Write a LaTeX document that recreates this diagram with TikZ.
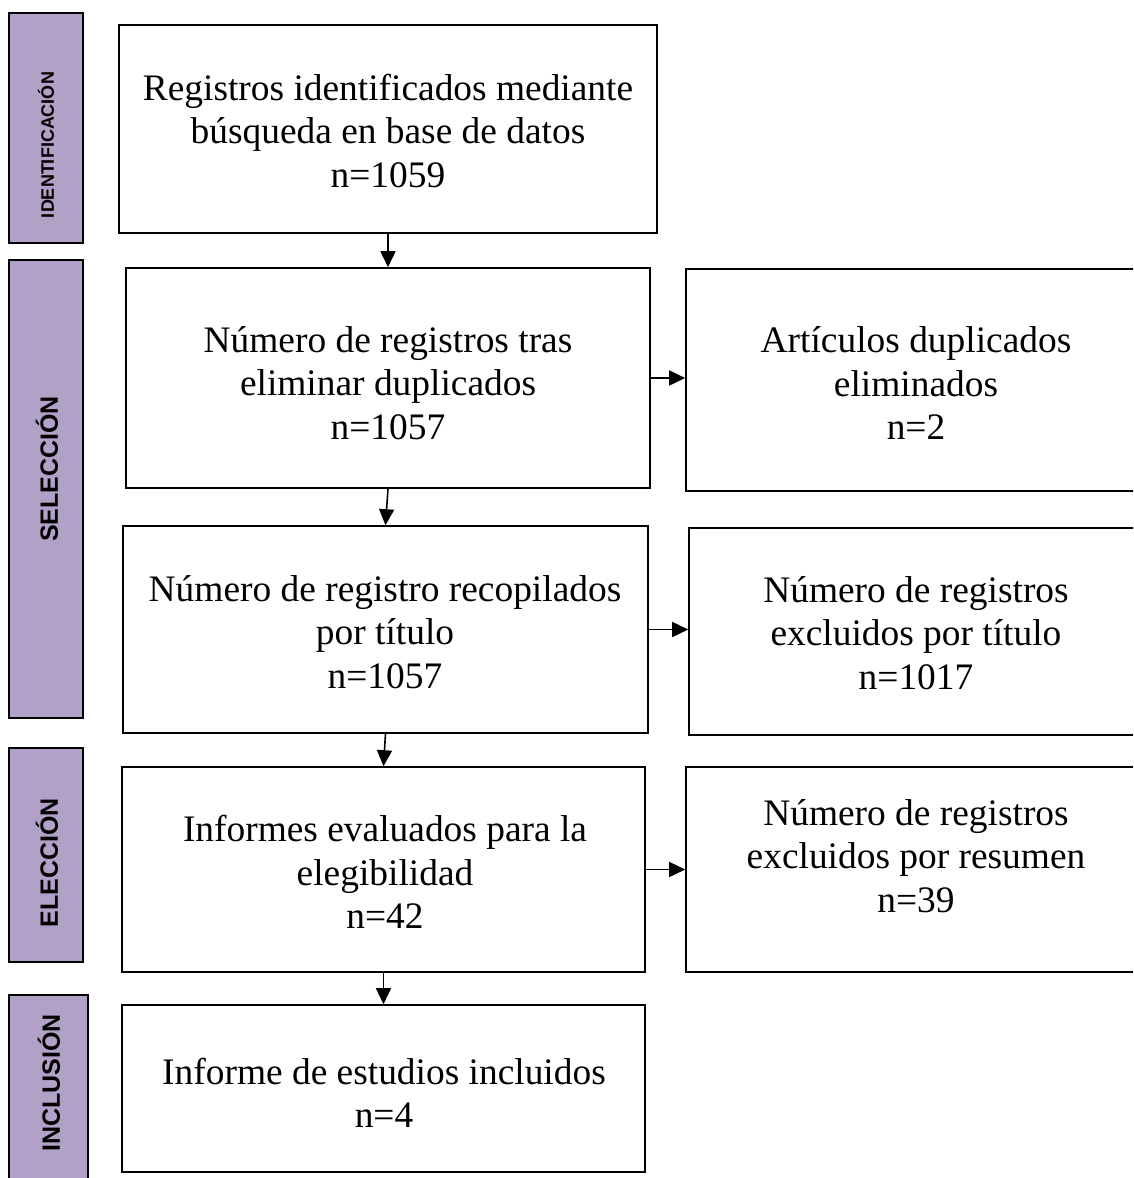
\documentclass[tikz,border=0pt]{standalone}
\usepackage{fontspec}
\setmainfont{Liberation Serif}
\newfontfamily\barfont{Liberation Sans}
\usetikzlibrary{arrows.meta}
\definecolor{barfill}{HTML}{B2A1C7}
\tikzset{
  box/.style={draw, line width=1.6pt, fill=white, inner sep=0pt},
  txt/.style={align=center, font=\fontsize{37.4}{43.3}\selectfont, inner sep=0pt},
  bar/.style={draw, line width=1.6pt, fill=barfill, inner sep=0pt},
  barlbl/.style={rotate=90, font=\barfont\bfseries\fontsize{25}{30}\selectfont, inner sep=0pt},
  arr/.style={line width=1.6pt, -{Triangle[length=16pt,width=15pt]}},
}
\begin{document}
\begin{tikzpicture}[x=1pt,y=-1pt]
\clip (0,0) rectangle (1133,1178);
\fill[white] (0,0) rectangle (1133,1178);
% side bars
\node[bar, minimum width=74pt, minimum height=230pt] (s1) at (46,128) {};
\node[bar, minimum width=74pt, minimum height=458pt] (s2) at (46,489) {};
\node[bar, minimum width=74pt, minimum height=214pt] (s3) at (46,855) {};
\node[bar, minimum width=79pt, minimum height=205pt] (s4) at (48.5,1097.5) {};
\node[barlbl, font=\barfont\bfseries\fontsize{18}{22}\selectfont] (l1) at (46,145) {IDENTIFICACIÓN};
\node[barlbl] (l2) at (47,469) {SELECCIÓN};
\node[barlbl] (l3) at (47,863) {ELECCIÓN};
\node[barlbl] (l4) at (49,1083) {INCLUSIÓN};
% main boxes
\node[box, minimum width=538pt, minimum height=208pt] (b1) at (388,129) {};
\node[box, minimum width=524pt, minimum height=220pt] (b2) at (388,378) {};
\node[box, minimum width=460pt, minimum height=222pt] (r1) at (916,380) {};
\node[box, minimum width=525pt, minimum height=207pt] (b3) at (385.5,629.5) {};
\node[box, minimum width=457pt, minimum height=207pt] (r2) at (917.5,631.5) {};
\node[box, minimum width=523pt, minimum height=205pt] (b4) at (383.5,869.5) {};
\node[box, minimum width=460pt, minimum height=205pt] (r3) at (916,869.5) {};
\node[box, minimum width=523pt, minimum height=167pt] (b5) at (383.5,1088.5) {};
% texts
\node[txt] (t1) at (388,131) {Registros identificados mediante\\búsqueda en base de datos\\n=1059};
\node[txt] (t2) at (388,383) {Número de registros tras\\eliminar duplicados\\n=1057};
\node[txt] (t3) at (916,383) {Artículos duplicados\\eliminados\\n=2};
\node[txt] (t4) at (385,632) {Número de registro recopilados\\por título\\n=1057};
\node[txt] (t5) at (916,633) {Número de registros\\excluidos por título\\n=1017};
\node[txt] (t6) at (385,872) {Informes evaluados para la\\elegibilidad\\n=42};
\node[txt] (t7) at (916,856) {Número de registros\\excluidos por resumen\\n=39};
\node[txt] (t8) at (384,1093) {Informe de estudios incluidos\\n=4};
% connectors
\draw[arr] (b1.south) -- (b2.north);
\draw[arr] (b2.south) -- (b3.north);
\draw[arr] (b3.south) -- (b4.north);
\draw[arr] (b4.south) -- (b5.north);
\draw[arr] (b2.east) -- (r1.west |- b2.east);
\draw[arr] (b3.east) -- (r2.west |- b3.east);
\draw[arr] (b4.east) -- (r3.west |- b4.east);
\end{tikzpicture}
\end{document}
